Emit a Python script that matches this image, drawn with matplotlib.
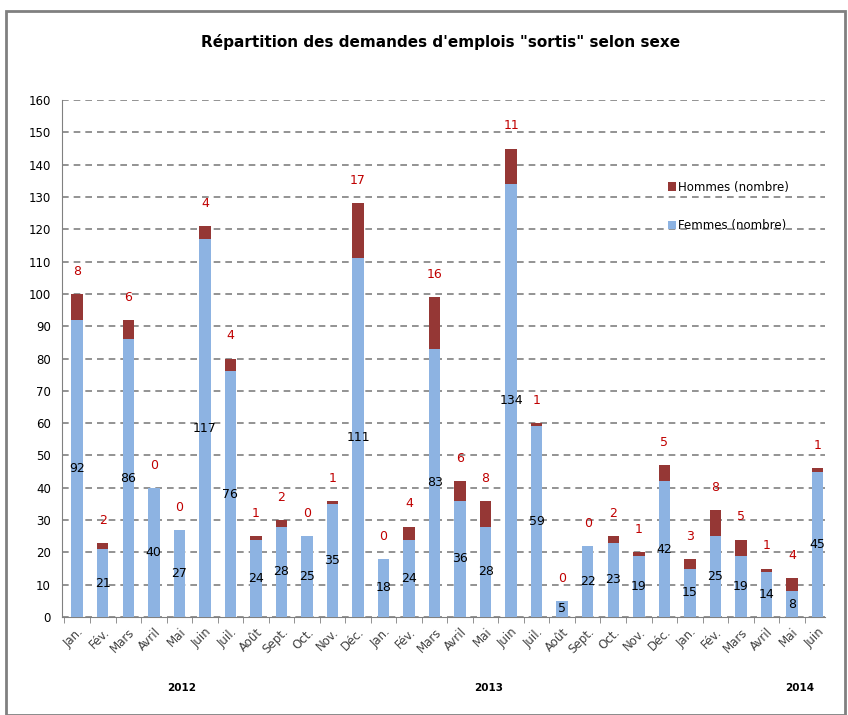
import matplotlib.pyplot as plt
import numpy as np
from matplotlib.patches import Rectangle

mois = ['Jan.', 'Fév.', 'Mars', 'Avril', 'Mai', 'Juin', 'Juil.', 'Août', 'Sept.', 'Oct.', 'Nov.', 'Déc.',
        'Jan.', 'Fév.', 'Mars', 'Avril', 'Mai', 'Juin', 'Juil.', 'Août', 'Sept.', 'Oct.', 'Nov.', 'Déc.',
        'Jan.', 'Fév.', 'Mars', 'Avril', 'Mai', 'Juin']
femmes = [92, 21, 86, 40, 27, 117, 76, 24, 28, 25, 35, 111,
          18, 24, 83, 36, 28, 134, 59, 5, 22, 23, 19, 42,
          15, 25, 19, 14, 8, 45]
hommes = [8, 2, 6, 0, 0, 4, 4, 1, 2, 0, 1, 17,
          0, 4, 16, 6, 8, 11, 1, 0, 0, 2, 1, 5,
          3, 8, 5, 1, 4, 1]
annees = ['2012', '2013', '2014']
annees_pos = [4.1, 16.1, 28.3]

fig = plt.figure(figsize=(8.48, 7.15), dpi=100)
ax = fig.add_axes([0.073, 0.137, 0.9, 0.723])

x = np.arange(len(mois))
f = np.array(femmes)
h = np.array(hommes)
ax.bar(x, f, width=0.45, color='#8DB3E2', label='Femmes (nombre)', zorder=3)
ax.bar(x, h, width=0.45, bottom=f, color='#953735', label='Hommes (nombre)', zorder=3)

for i in range(len(x)):
    ax.text(x[i], f[i] / 2, str(f[i]), ha='center', va='center', fontsize=9, color='black', zorder=4)
    ax.text(x[i], f[i] + h[i] + 7, str(h[i]), ha='center', va='center', fontsize=9, color='#C00000', zorder=4)

ax.set_yticks(range(0, 161, 10))
ax.set_xticks(x)
ax.set_xticks(np.arange(-0.5, 30, 1), minor=True)
ax.set_ylim(0, 160)
ax.set_xlim(-0.6, 29.3)
ax.set_xticklabels(mois, rotation=45, ha='right', rotation_mode='anchor', fontsize=8.5, color='#404040')
ax.tick_params(axis='y', labelsize=8.5, length=0, pad=8)
ax.tick_params(axis='x', which='major', length=0, pad=6)
ax.tick_params(axis='x', which='minor', length=4, color='#808080')
ax.grid(axis='y', linestyle=(0, (4, 3)), color='#808080', linewidth=1.2, zorder=0)
for s in ['top', 'right']:
    ax.spines[s].set_visible(False)
ax.spines['left'].set_color('#808080')
ax.spines['bottom'].set_color('#808080')

for a, p in zip(annees, annees_pos):
    ax.text(p, -22, a, ha='center', va='center', fontsize=7.5, fontweight='bold')

handles, labels = ax.get_legend_handles_labels()
ax.legend(handles[::-1], labels[::-1], loc='upper left', bbox_to_anchor=(0.78, 0.865), frameon=False,
          fontsize=8.5, handlelength=0.7, handleheight=0.7, labelspacing=2.2, handletextpad=0.2)

fig.text(0.52, 0.941, 'Répartition des demandes d\'emplois "sortis" selon sexe', ha='center', va='center',
         fontsize=11, fontweight='bold')

fig.patches.append(Rectangle((0.007, 0.0), 0.99, 0.985, transform=fig.transFigure, fill=False,
                             edgecolor='#808080', linewidth=2))

fig.savefig('out.png', dpi=100)
